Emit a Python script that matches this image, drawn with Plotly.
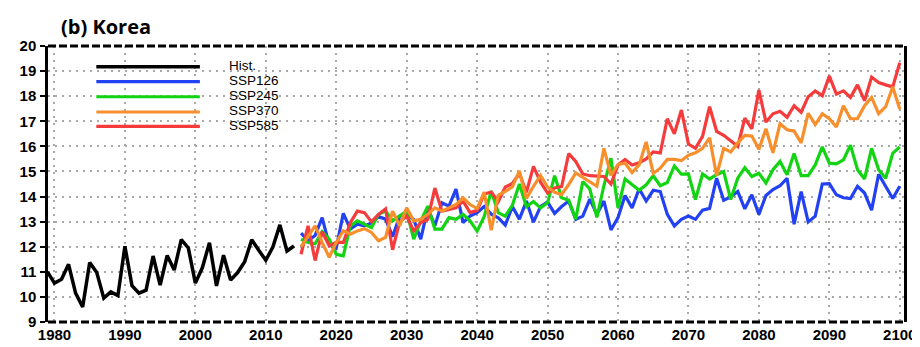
import plotly.graph_objects as go

# ---------------- data ----------------
hist_years = list(range(1979, 2015))
hist = [11.0, 10.55, 10.7, 11.3, 10.15, 9.6, 11.37, 10.97, 9.95, 10.2, 10.05, 12.02,
        10.45, 10.15, 10.27, 11.63, 10.47, 11.65, 11.07, 12.28, 11.95, 10.55, 11.17,
        12.16, 10.44, 11.66, 10.67, 10.97, 11.4, 12.28, 11.86, 11.46, 11.99, 12.87,
        11.83, 12.03]

scen_years = list(range(2015, 2101))
ssp126 = [12.54, 12.24, 12.45, 13.16, 12.07, 11.95, 13.33, 12.7, 12.9, 12.83,
          12.95, 13.2, 13.1, 12.4, 13.22, 13.25, 13.09, 12.3, 13.55, 12.83,
          13.75, 13.62, 14.3, 12.96, 13.22, 13.36, 13.6, 13.3, 13.15, 12.86,
          13.6, 13.1, 13.82, 12.98, 13.6, 13.78, 13.33, 13.6, 13.82, 13.09,
          13.22, 13.9, 13.29, 13.82, 12.67, 13.16, 14.04, 13.55, 14.31, 13.82,
          14.25, 14.2, 13.29, 12.83, 13.09, 13.22, 13.09, 13.46, 13.53, 14.73,
          13.85, 13.99, 14.2, 13.51, 14.07, 13.29, 14.04, 14.28, 14.43, 14.73,
          12.9, 14.2, 12.99, 13.22, 14.5, 14.51, 14.07, 13.95, 13.92, 14.41,
          14.14, 13.46, 14.89, 14.41, 13.92, 14.41]
ssp245 = [12.3, 12.17, 12.12, 12.6, 12.3, 11.7, 11.64, 12.83, 13.03, 12.89,
          12.76, 13.29, 13.42, 13.03, 13.22, 13.42, 12.3, 13.03, 13.62, 12.7,
          12.7, 13.16, 13.09, 13.29, 13.03, 12.62, 13.2, 14.21, 13.36, 13.22,
          13.65, 14.5, 13.6, 13.8, 13.55, 13.75, 14.83, 13.95, 13.85, 13.1,
          14.6, 14.3, 13.17, 14.44, 15.53, 13.55, 14.7, 14.47, 14.25, 14.47,
          14.83, 14.43, 14.56, 15.22, 14.89, 14.9, 13.88, 14.9, 14.7, 14.87,
          15.0, 13.88, 14.73, 15.15, 14.8, 14.93, 14.54, 15.07, 15.4, 14.87,
          15.72, 14.83, 14.83, 15.26, 15.98, 15.33, 15.3, 15.46, 16.05, 15.07,
          14.7, 15.92, 15.07, 14.73, 15.72, 15.98]
ssp370 = [12.0, 12.4, 12.83, 12.17, 11.58, 12.17, 12.63, 12.5, 12.63, 12.72,
          12.57, 12.24, 12.37, 13.42, 12.83, 13.55, 13.03, 13.09, 13.29, 13.55,
          13.42, 13.55, 13.68, 13.95, 13.68, 13.52, 14.18, 12.66, 14.05, 14.21,
          14.38, 15.02, 13.92, 14.41, 14.84, 14.38, 14.17, 14.08, 14.48, 14.94,
          14.77, 14.57, 14.41, 15.92, 14.84, 15.28, 15.33, 14.96, 15.26, 16.18,
          14.93, 15.13, 15.48, 15.48, 15.43, 15.65, 15.74, 15.92, 16.34, 14.83,
          15.92, 15.78, 16.14, 16.44, 16.41, 15.88, 16.7, 15.74, 16.9, 16.66,
          16.61, 16.14, 17.32, 16.87, 17.3, 17.1, 16.77, 17.62, 17.1, 17.1,
          17.62, 17.95, 17.3, 17.58, 18.37, 17.49]
ssp585 = [11.7, 12.83, 11.45, 12.6, 12.04, 12.17, 12.17, 12.96, 13.42, 13.36,
          12.99, 13.29, 13.51, 11.88, 12.99, 13.22, 12.63, 12.96, 13.09, 14.34,
          13.42, 13.49, 13.55, 13.82, 13.36, 13.45, 14.1, 14.18, 13.8, 14.38,
          14.52, 14.92, 14.17, 15.2, 14.57, 14.14, 14.34, 14.4, 15.71, 15.4,
          14.9, 14.83, 14.8, 14.8, 14.5, 15.26, 15.48, 15.26, 15.35, 15.5,
          15.78, 15.74, 17.1, 16.5, 17.45, 16.09, 15.92, 16.4, 17.58, 16.6,
          16.44, 16.22, 16.0, 17.12, 16.7, 18.24, 16.97, 17.3, 17.4, 17.16,
          17.62, 17.36, 17.98, 18.21, 18.02, 18.8, 18.08, 18.21, 17.95, 18.45,
          17.82, 18.76, 18.54, 18.45, 18.37, 19.33]

series_names = ["Hist.", "SSP126", "SSP245", "SSP370", "SSP585"]
x_ticks = list(range(1980, 2101, 10))
y_ticks = list(range(9, 21))

# ---------------- styles ----------------
colors = {"Hist.": "#000000", "SSP126": "#2241f2", "SSP245": "#12d412",
          "SSP370": "#f7902c", "SSP585": "#f53b3b"}
widths = {"Hist.": 3.5, "SSP126": 3.2, "SSP245": 3.2, "SSP370": 3.2, "SSP585": 3.2}

W, H = 920, 347
ML, MR, MT, MB = 38, 14, 38, 30
PW, PH = W - ML - MR, H - MT - MB

fig = go.Figure()
data = {"Hist.": (hist_years, hist), "SSP126": (scen_years, ssp126),
        "SSP245": (scen_years, ssp245), "SSP585": (scen_years, ssp585),
        "SSP370": (scen_years, ssp370)}
for name in ["Hist.", "SSP126", "SSP245", "SSP585", "SSP370"]:
    xs, ys = data[name]
    fig.add_trace(go.Scatter(x=xs, y=ys, mode="lines", name=name,
                             line=dict(color=colors[name], width=widths[name]),
                             showlegend=False, hoverinfo="skip"))

tickfont = dict(family="Liberation Sans, Arial, sans-serif", size=15,
                color="black", weight="bold")
fig.update_xaxes(range=[1979.08, 2100.6], tickvals=x_ticks,
                 ticktext=[str(v) for v in x_ticks], showgrid=True,
                 gridcolor="#a8a8a8", griddash="2px,5px", gridwidth=1.6,
                 zeroline=False, showline=False, ticks="", tickfont=tickfont,
                 ticklabelstandoff=2)
fig.update_yaxes(range=[9, 20], tickvals=y_ticks,
                 ticktext=[str(v) for v in y_ticks], showgrid=True,
                 gridcolor="#a8a8a8", griddash="2px,5px", gridwidth=1.6,
                 zeroline=False, showline=True, mirror=True, linecolor="black",
                 linewidth=2.5, ticks="outside", ticklen=5, tickwidth=2,
                 tickcolor="black", tickfont=tickfont, ticklabelstandoff=1)

def px_x(px):
    return (px - ML) / PW

def px_y(py):
    return (H - MB - py) / PH

shapes = [
    dict(type="line", xref="paper", yref="paper", x0=0, x1=1, y0=1, y1=1,
         line=dict(color="black", width=3, dash="8px,3px")),
    dict(type="line", xref="paper", yref="paper", x0=0, x1=1, y0=0, y1=0,
         line=dict(color="black", width=3, dash="8px,3px")),
]
annotations = []
leg_line_y = [59, 74, 89.3, 104.7, 119.3]
leg_text_y = [58, 73.2, 88.4, 103.6, 118.8]
for i, name in enumerate(series_names):
    shapes.append(dict(type="line", xref="paper", yref="paper",
                       x0=px_x(87), x1=px_x(192), y0=px_y(leg_line_y[i]),
                       y1=px_y(leg_line_y[i]),
                       line=dict(color=colors[name], width=widths[name])))
    annotations.append(dict(xref="paper", yref="paper", x=px_x(221),
                            y=px_y(leg_text_y[i]), text=name, showarrow=False,
                            xanchor="left", yanchor="middle", borderpad=0,
                            font=dict(family="Liberation Sans, Arial, sans-serif",
                                      size=13.5, color="black")))
annotations.append(dict(xref="paper", yref="paper", x=px_x(50), y=px_y(18),
                        text="(b) Korea", showarrow=False, xanchor="left",
                        yanchor="middle", borderpad=0,
                        font=dict(family="Open Sans, sans-serif", size=20,
                                  color="black", weight="bold")))

fig.update_layout(width=W, height=H, margin=dict(l=ML, r=MR, t=MT, b=MB),
                  plot_bgcolor="white", paper_bgcolor="white",
                  shapes=shapes, annotations=annotations, showlegend=False)

fig.write_html("out.html")
